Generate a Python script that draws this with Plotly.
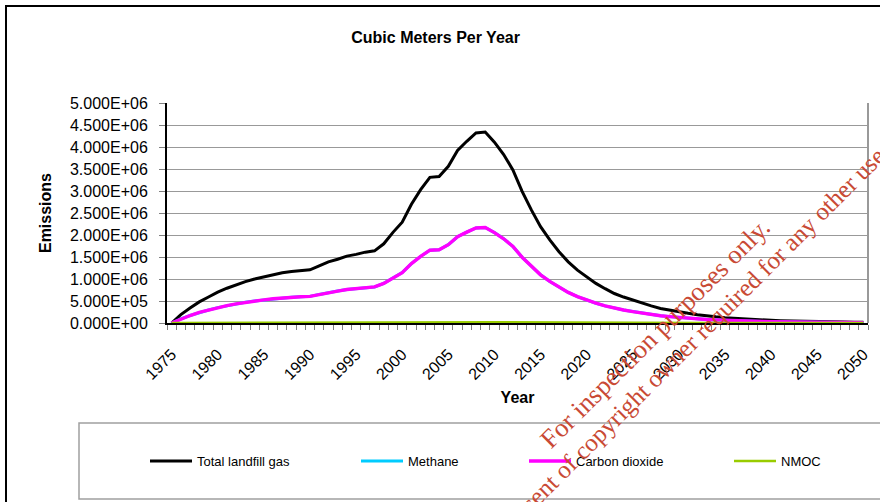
import plotly.graph_objects as go

# ---------------- data ----------------
years = list(range(1975, 2051))

total_landfill_gas = [
    0, 190000, 340000, 480000, 590000, 700000, 790000, 870000, 940000, 1000000,
    1050000, 1100000, 1140000, 1170000, 1190000, 1210000, 1300000, 1390000, 1450000, 1520000,
    1560000, 1610000, 1640000, 1800000, 2060000, 2290000, 2700000, 3030000, 3310000, 3330000,
    3560000, 3920000, 4130000, 4320000, 4340000, 4110000, 3830000, 3480000, 2990000, 2570000,
    2190000, 1890000, 1620000, 1390000, 1200000, 1040000, 900000, 780000, 670000, 590000,
    520000, 450000, 390000, 330000, 290000, 250000, 220000, 190000, 160000, 140000,
    120000, 105000, 92000, 80000, 70000, 61000, 53000, 46000, 40000, 35000,
    30000, 26000, 23000, 20000, 17000, 15000,
]

methane = [
    0, 95000, 170000, 240000, 295000, 350000, 395000, 435000, 470000, 500000,
    525000, 550000, 570000, 585000, 595000, 605000, 650000, 695000, 725000, 760000,
    780000, 805000, 820000, 900000, 1030000, 1145000, 1350000, 1515000, 1655000, 1665000,
    1780000, 1960000, 2065000, 2160000, 2170000, 2055000, 1915000, 1740000, 1495000, 1285000,
    1095000, 945000, 810000, 695000, 600000, 520000, 450000, 390000, 335000, 295000,
    260000, 225000, 195000, 165000, 145000, 125000, 110000, 95000, 80000, 70000,
    60000, 52500, 46000, 40000, 35000, 30500, 26500, 23000, 20000, 17500,
    15000, 13000, 11500, 10000, 8500, 7500,
]

carbon_dioxide = [
    0, 95000, 170000, 240000, 295000, 350000, 395000, 435000, 470000, 500000,
    525000, 550000, 570000, 585000, 595000, 605000, 650000, 695000, 725000, 760000,
    780000, 805000, 820000, 900000, 1030000, 1145000, 1350000, 1515000, 1655000, 1665000,
    1780000, 1960000, 2065000, 2160000, 2170000, 2055000, 1915000, 1740000, 1495000, 1285000,
    1095000, 945000, 810000, 695000, 600000, 520000, 450000, 390000, 335000, 295000,
    260000, 225000, 195000, 165000, 145000, 125000, 110000, 95000, 80000, 70000,
    60000, 52500, 46000, 40000, 35000, 30500, 26500, 23000, 20000, 17500,
    15000, 13000, 11500, 10000, 8500, 7500,
]

nmoc = [
    0, 800, 1400, 1900, 2400, 2800, 3200, 3500, 3800, 4000,
    4200, 4400, 4600, 4700, 4800, 4800, 5200, 5600, 5800, 6100,
    6200, 6400, 6600, 7200, 8200, 9200, 10800, 12100, 13200, 13300,
    14200, 15700, 16500, 17300, 17400, 16400, 15300, 13900, 12000, 10300,
    8800, 7600, 6500, 5600, 4800, 4200, 3600, 3100, 2700, 2400,
    2100, 1800, 1600, 1300, 1200, 1000, 900, 800, 600, 600,
    500, 400, 400, 300, 300, 200, 200, 200, 200, 100,
    100, 100, 100, 100, 100, 100,
]

series_names = ["Total landfill gas", "Methane", "Carbon dioxide", "NMOC"]

y_tick_values = [0, 500000, 1000000, 1500000, 2000000, 2500000,
                 3000000, 3500000, 4000000, 4500000, 5000000]
y_tick_labels = ["0.000E+00", "5.000E+05", "1.000E+06", "1.500E+06", "2.000E+06",
                 "2.500E+06", "3.000E+06", "3.500E+06", "4.000E+06", "4.500E+06",
                 "5.000E+06"]
x_tick_years = list(range(1975, 2051, 5))

chart_title = "Cubic Meters Per Year"
x_title = "Year"
y_title = "Emissions"
watermark_lines = ["For inspection purposes only.",
                   "Consent of copyright owner required for any other use."]

# ---------------- styling / layout ----------------
W, H = 880, 502
L, R, T, B = 167, 12, 103, 179
PW = W - L - R
PH = H - T - B


def px_x(px):
    return (px - L) / PW


def px_y(py):
    return (H - B - py) / PH


FONT = "Arial, 'Liberation Sans', sans-serif"
colors = ["#000000", "#00CCFF", "#FF00FF", "#99CC00"]
widths = [3, 3, 3.4, 2.5]
legend_ids = ["legend", "legend2", "legend3", "legend4"]
legend_line_starts = [150, 361, 529, 734]

fig = go.Figure()
series = [total_landfill_gas, methane, carbon_dioxide, nmoc]
for name, vals, c, w, lg in zip(series_names, series, colors, widths, legend_ids):
    fig.add_trace(go.Scatter(
        x=years, y=vals, name=name, mode="lines",
        line=dict(color=c, width=w),
        legend=lg, hoverinfo="x+y+name",
    ))

legend_common = dict(
    orientation="h", xanchor="left", yanchor="middle",
    bgcolor="rgba(0,0,0,0)", borderwidth=0,
    font=dict(family=FONT, size=13, color="#000000"),
    itemwidth=42, tracegroupgap=0,
)
legend_layouts = {}
for lg, start in zip(legend_ids, legend_line_starts):
    d = dict(legend_common)
    d["x"] = px_x(start - 5)
    d["y"] = px_y(461)
    legend_layouts[lg] = d

fig.update_layout(
    width=W, height=H,
    margin=dict(l=L, r=R, t=T, b=B, autoexpand=False),
    paper_bgcolor="white", plot_bgcolor="white",
    showlegend=True,
    title=dict(text=chart_title, x=0.495, xref="container", xanchor="center",
               y=1 - 37 / H, yref="container", yanchor="middle",
               font=dict(family=FONT, size=16, color="#000000", weight="bold")),
    xaxis=dict(
        range=[1974.5, 2050.5], tickmode="array", tickvals=x_tick_years,
        ticktext=[str(y) for y in x_tick_years], tickangle=-45,
        ticks="", showgrid=False, zeroline=False,
        showline=True, linecolor="#000000", linewidth=1.5,
        tickfont=dict(family=FONT, size=16, color="#000000"),
        ticklabelstandoff=14,
        minor=dict(tickmode="linear", tick0=1974.5, dtick=1, ticks="outside",
                   ticklen=5, tickcolor="#808080", tickwidth=1, showgrid=False),
        title=dict(text=x_title, standoff=10,
                   font=dict(family=FONT, size=16, color="#000000", weight="bold")),
        automargin=False, fixedrange=True,
    ),
    yaxis=dict(
        range=[0, 5000000], tickmode="array", tickvals=y_tick_values,
        ticktext=y_tick_labels, ticks="outside", ticklen=6, tickcolor="#808080",
        showgrid=True, gridcolor="#999999", gridwidth=1, zeroline=False,
        showline=True, linecolor="#000000", linewidth=2,
        tickfont=dict(family=FONT, size=16, color="#000000"),
        ticklabelstandoff=8,
        title=dict(text=y_title, standoff=14,
                   font=dict(family=FONT, size=16, color="#000000", weight="bold")),
        automargin=False, fixedrange=True,
    ),
    **legend_layouts,
)

# plot-area right border (grey)
fig.add_shape(type="line", xref="paper", yref="paper", x0=1, x1=1, y0=0, y1=1,
              line=dict(color="#999999", width=2))
# outer chart frame
fig.add_shape(type="rect", xref="paper", yref="paper",
              x0=px_x(6), x1=px_x(890), y0=px_y(515), y1=px_y(6),
              line=dict(color="#000000", width=2), fillcolor="rgba(0,0,0,0)")
# legend box
fig.add_shape(type="rect", xref="paper", yref="paper",
              x0=px_x(79), x1=px_x(890), y0=px_y(499), y1=px_y(423),
              line=dict(color="#A0A0A0", width=1.5), fillcolor="rgba(0,0,0,0)")

# watermark (two rotated lines)
wm_specs = [((655, 333), -45, 26.5), ((690, 342), -45, 25)]
for txt, ((cx, cy), ang, sz) in zip(watermark_lines, wm_specs):
    fig.add_annotation(
        text=txt, xref="paper", yref="paper",
        x=px_x(cx), y=px_y(cy), xanchor="center", yanchor="middle",
        showarrow=False, textangle=ang,
        font=dict(family="'Liberation Serif', 'Times New Roman', serif", size=sz,
                  color="#C94A35"),
    )

fig.write_html("out.html", config={"displayModeBar": False},
               post_script="document.body.style.margin='0px';")
